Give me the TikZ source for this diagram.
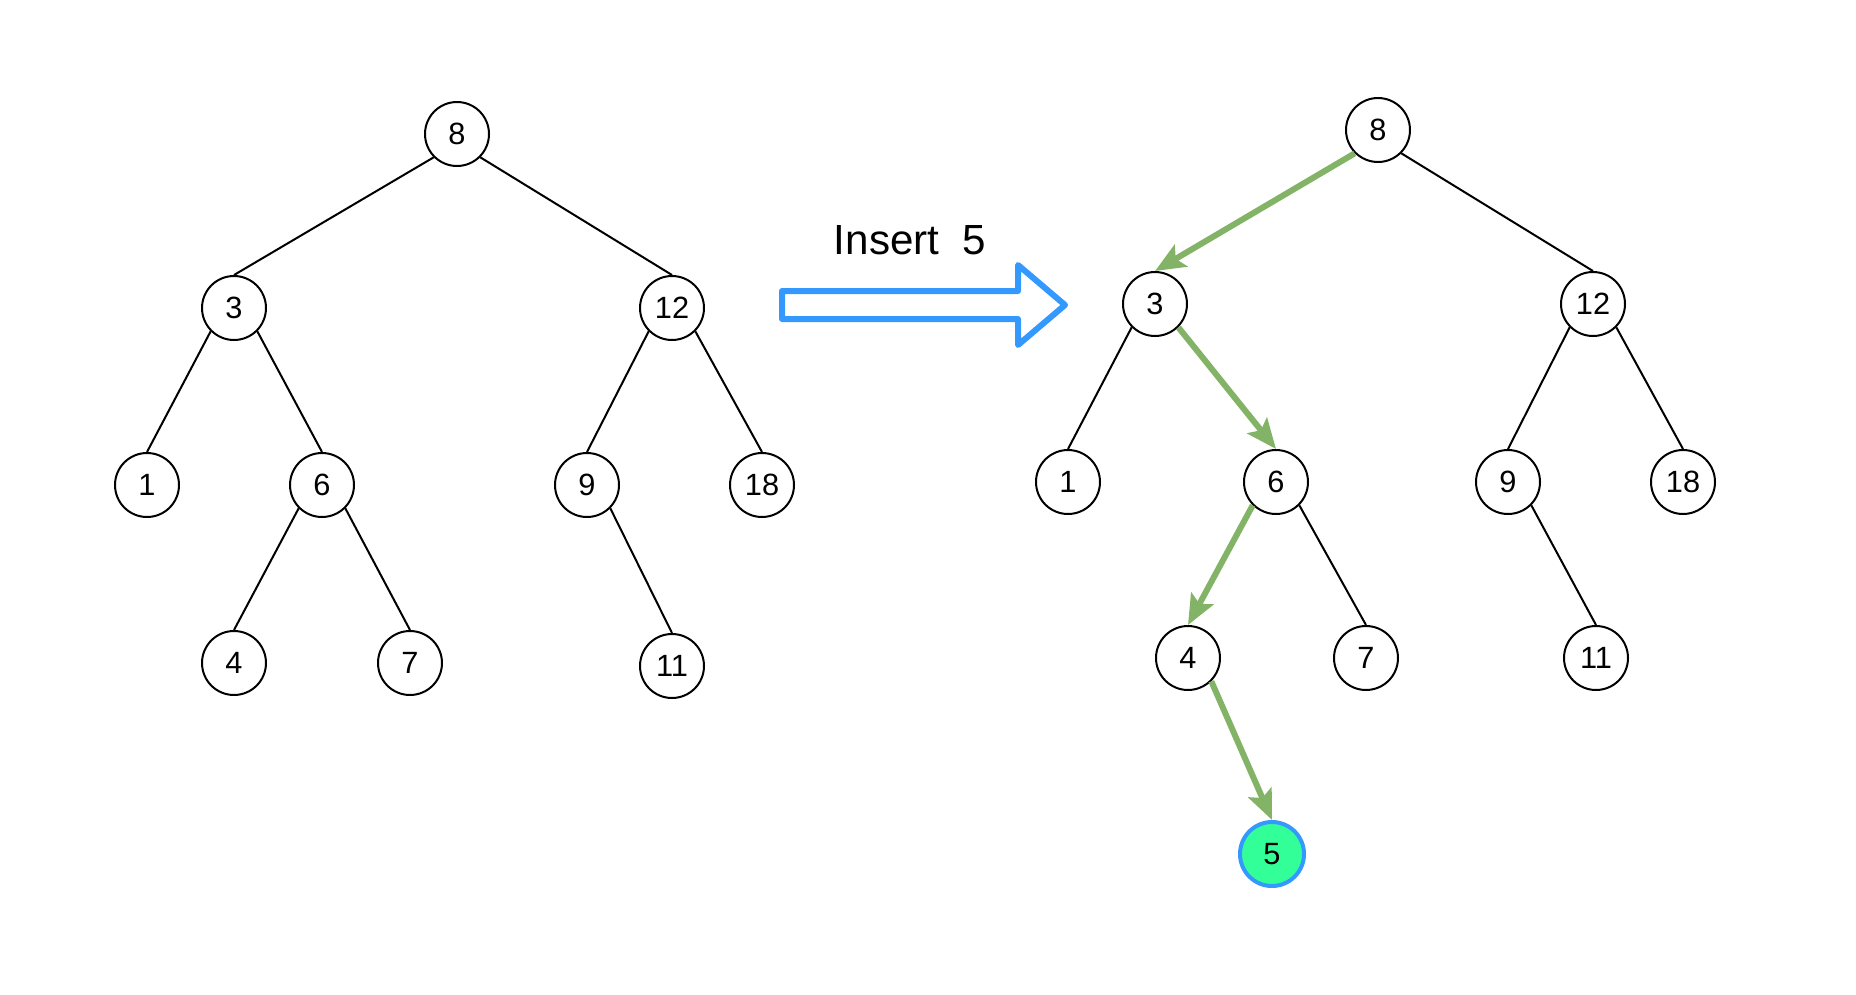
\documentclass[tikz,border=0pt]{standalone}
\usepackage{fontspec}
\setmainfont{Liberation Sans}
\usepackage{xcolor}
\usetikzlibrary{arrows.meta}
\definecolor{pathgreen}{HTML}{82B366}
\definecolor{newfill}{HTML}{33FF99}
\definecolor{newblue}{HTML}{3399FF}

\tikzset{
  key/.style={circle,draw=black,line width=0.04cm,minimum size=1.28cm,inner sep=0pt,
              font=\fontsize{17.5}{20}\selectfont},
  newkey/.style={key,fill=newfill,draw=newblue,line width=0.08cm},
  link/.style={line width=0.04cm},
  walk/.style={draw=pathgreen,line width=0.12cm,-{Stealth[length=0.6cm,width=0.5cm,inset=0.12cm]}}
}

\begin{document}
\begin{tikzpicture}[x=0.02cm,y=-0.02cm]
    \useasboundingbox (0,0) rectangle (1856,994);
    % tree before insertion
    \node[key] (l8)  at (457,134) {8};
    \node[key] (l3)  at (234,308) {3};
    \node[key] (l12) at (672,308) {12};
    \node[key] (l1)  at (147,485) {1};
    \node[key] (l6)  at (322,485) {6};
    \node[key] (l9)  at (587,485) {9};
    \node[key] (l18) at (762,485) {18};
    \node[key] (l4)  at (234,663) {4};
    \node[key] (l7)  at (410,663) {7};
    \node[key] (l11) at (672,666) {11};
    \foreach \p/\s/\c in {l8/west/l3,l8/east/l12,l3/west/l1,l3/east/l6,l6/west/l4,
                          l6/east/l7,l12/west/l9,l12/east/l18,l9/east/l11}
      \draw[link] (\p.south \s) -- (\c.north);

    % the operation
    \node[font=\fontsize{24}{28}\selectfont] (op) at (910,240) {Insert\ \ 5};
    \draw[newblue,line width=0.12cm,line join=round]
      (782,291) -- (1018,291) -- (1018,265) -- (1065,305) -- (1018,345)
      -- (1018,319) -- (782,319) -- cycle;

    % tree after insertion
    \node[key] (r8)  at (1378,130) {8};
    \node[key] (r3)  at (1155,304) {3};
    \node[key] (r12) at (1593,304) {12};
    \node[key] (r1)  at (1068,482) {1};
    \node[key] (r6)  at (1276,482) {6};
    \node[key] (r9)  at (1508,482) {9};
    \node[key] (r18) at (1683,482) {18};
    \node[key] (r4)  at (1188,658) {4};
    \node[key] (r7)  at (1366,658) {7};
    \node[key] (r11) at (1596,658) {11};
    \node[newkey] (r5) at (1272,854) {5};
    \foreach \p/\s/\c in {r8/east/r12,r3/west/r1,r6/east/r7,r12/west/r9,
                          r12/east/r18,r9/east/r11}
      \draw[link] (\p.south \s) -- (\c.north);
    \foreach \p/\s/\c in {r8/west/r3,r3/east/r6,r6/west/r4,r4/east/r5}
      \draw[walk] (\p.south \s) -- (\c.north);
\end{tikzpicture}
\end{document}
